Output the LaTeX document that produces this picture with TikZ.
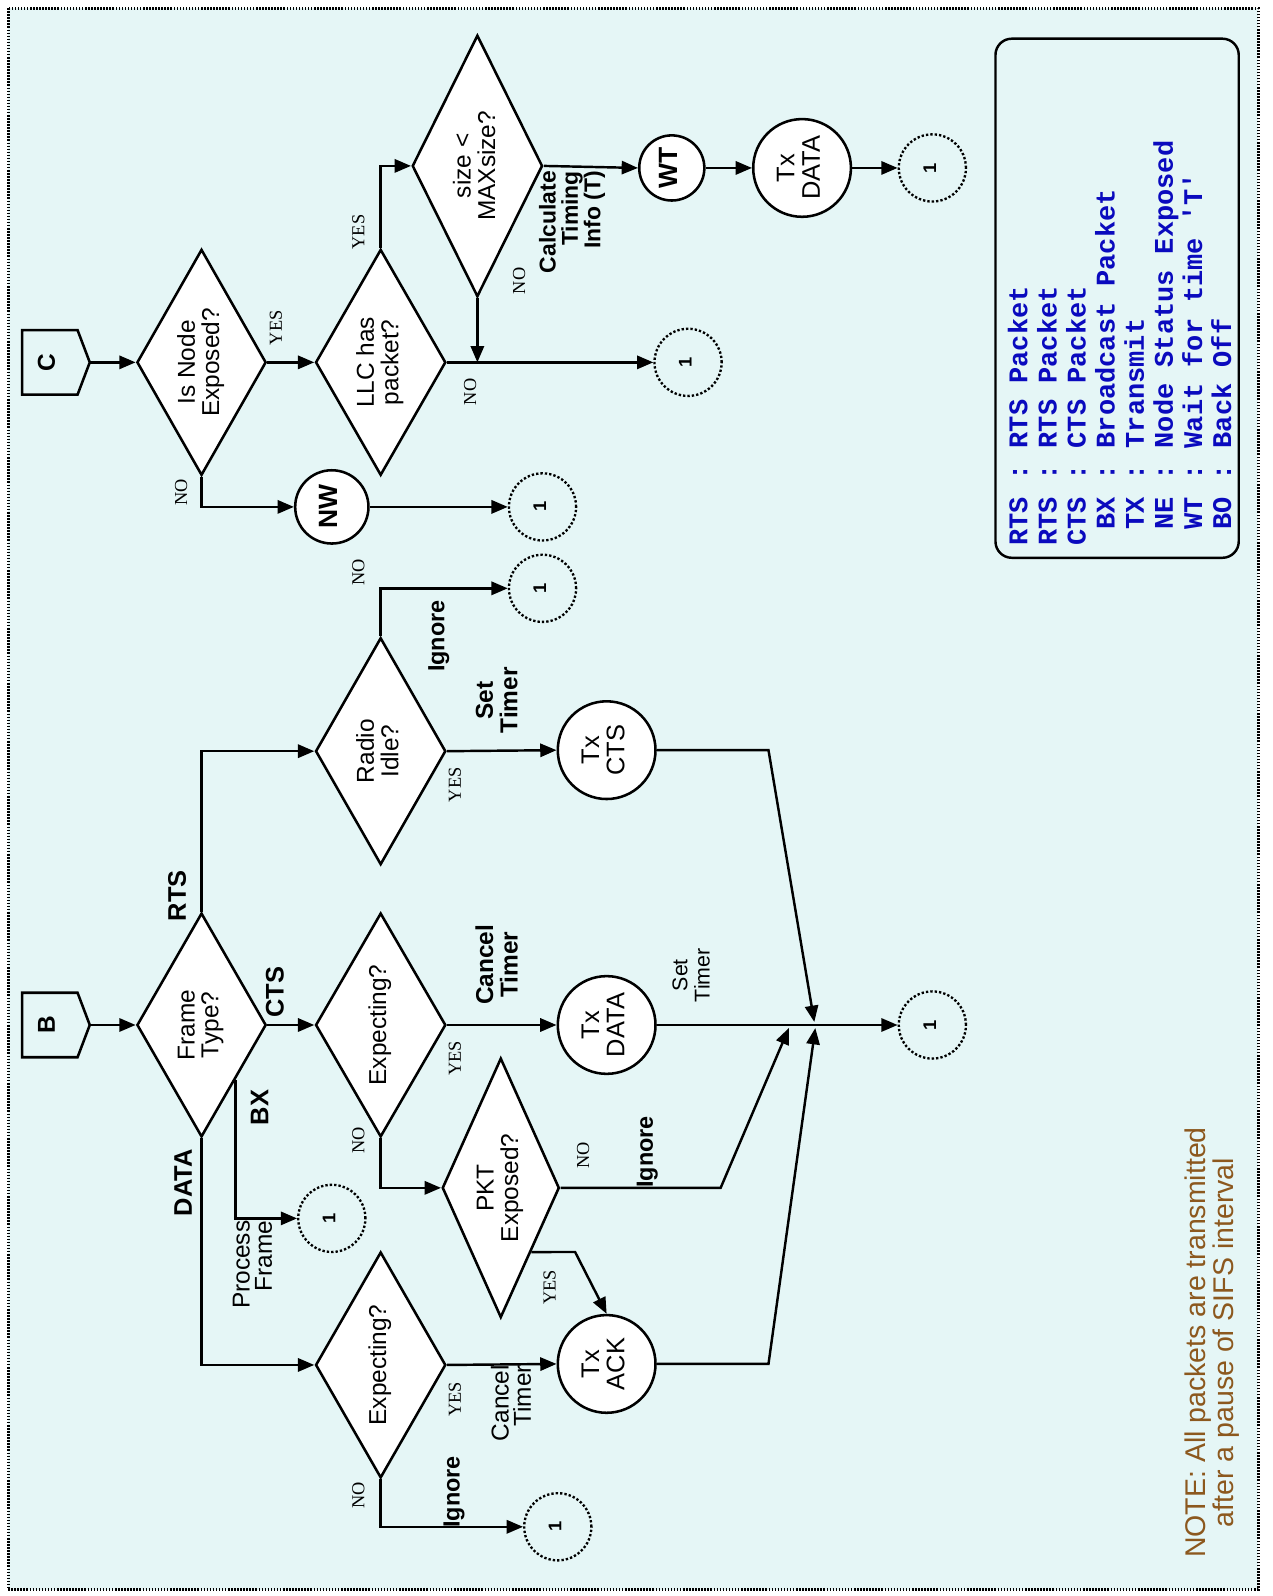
\documentclass[tikz,border=0pt]{standalone}
\usepackage{fontspec}
\setmainfont{Liberation Sans}
\newfontfamily\ynfont{Liberation Serif}
\newfontfamily\legfont{Liberation Mono}
\usetikzlibrary{shapes.geometric,arrows.meta,calc}
\definecolor{bgc}{RGB}{229,246,246}
\definecolor{legblue}{RGB}{10,10,190}
\definecolor{notebrown}{RGB}{140,88,30}
\newcommand{\rtx}[1]{\rotatebox{90}{\begin{tabular}{@{}c@{}}#1\end{tabular}}}
\begin{document}
\begin{tikzpicture}[x=1pt,y=-1pt,
  dia/.style={draw, diamond, fill=white, line width=2.5pt, inner sep=0pt, aspect=0.55, font=\fontsize{24}{22}\selectfont},
  circ/.style={draw, circle, fill=white, line width=2.5pt, inner sep=0pt, font=\fontsize{25}{25}\selectfont},
  bcirc/.style={circ, font=\bfseries\fontsize{26}{26}\selectfont},
  conn/.style={draw, circle, dotted, line width=2.3pt, minimum size=66pt, inner sep=0pt, font=\bfseries\fontsize{18}{18}\selectfont},
  pent/.style={minimum width=66pt, minimum height=63pt, inner sep=0pt, font=\bfseries\fontsize{24}{24}\selectfont},
  pentline/.style={line width=2.5pt},
  arr/.style={line width=2.4pt, -{Triangle[length=16pt,width=13pt]}},
  yn/.style={rotate=90, inner sep=0pt, font=\ynfont\fontsize{18}{18}\selectfont},
  blbl/.style={rotate=90, inner sep=0pt, font=\bfseries\fontsize{25}{25}\selectfont},
  btxt/.style={rotate=90, inner sep=0pt, align=center, font=\bfseries\fontsize{24}{24}\selectfont},
  rtxt/.style={rotate=90, inner sep=0pt, align=center, font=\fontsize{24}{22}\selectfont},
]
\useasboundingbox (0,0) rectangle (1250,1568);
\fill[white] (0,0) rectangle (1250,1568);
\draw[fill=bgc, line width=3pt, dash pattern=on 1.5pt off 1.5pt] (8,8) rectangle (1236,1562);

% ---------- legend and note
\node[draw, line width=2.4pt, rounded corners=16pt, minimum width=239pt, minimum height=510pt, inner sep=0pt] (legbox) at (1097.5,293) {};
\node[rotate=90, anchor=west, inner sep=0pt, align=left, text=legblue, font=\legfont\bfseries\fontsize{26.5}{28.6}\selectfont] (leg) at (1100,536)
 {RTS : RTS Packet\\RTS : RTS Packet\\CTS : CTS Packet\\~BX : Broadcast Packet\\~TX : Transmit\\~NE : Node Status Exposed\\~WT : Wait for time \textquotesingle T\textquotesingle\\~BO : Back Off};
\node[rotate=90, inner sep=0pt, align=center, text=notebrown, font=\fontsize{28}{27.5}\selectfont] (note) at (1191,1319)
 {NOTE: All packets are transmitted\\after a pause of SIFS interval};

% ---------- off-page connectors
\node[pent] (C) at (55,356) {\rtx{C}\hspace*{12pt}};
\node[pent] (B) at (55,1007) {\rtx{B}\hspace*{12pt}};
\draw[pentline] (C.north west) -- ([xshift=-12pt]C.north east) -- (C.east) -- ([xshift=-12pt]C.south east) -- (C.south west) -- cycle;
\draw[pentline] (B.north west) -- ([xshift=-12pt]B.north east) -- (B.east) -- ([xshift=-12pt]B.south east) -- (B.south west) -- cycle;

% ---------- decisions
\node[dia, minimum width=127pt, minimum height=222pt] (isexp) at (198,356) {\rtx{Is Node\\Exposed?}};
\node[dia, minimum width=128pt, minimum height=222pt] (llc) at (374,356) {\rtx{LLC has\\packet?}};
\node[dia, minimum width=128pt, minimum height=257pt] (size) at (469,163) {\rtx{size <\\MAXsize?}};
\node[dia, minimum width=127pt, minimum height=220pt] (ft) at (198,1007) {\rtx{Frame\\Type?}};
\node[dia, minimum width=128pt, minimum height=223pt] (radio) at (374,738) {\rtx{Radio\\Idle?}};
\node[dia, minimum width=128pt, minimum height=220pt] (expc) at (374,1007) {\rtx{Expecting?}};
\node[dia, minimum width=128pt, minimum height=222pt] (expd) at (374,1341) {\rtx{Expecting?}};
\node[dia, minimum width=115pt, minimum height=255pt] (pkt) at (492,1167) {\rtx{PKT\\Exposed?}};

% ---------- actions
\node[bcirc, minimum size=72pt] (nw) at (326,498) {\rtx{NW}};
\node[bcirc, minimum size=64pt] (wt) at (660,165) {\rtx{WT}};
\node[circ, minimum size=96pt] (txdc) at (788,165) {\rtx{Tx\\DATA}};
\node[circ, minimum size=96pt] (txcts) at (596,737) {\rtx{Tx\\CTS}};
\node[circ, minimum size=96pt] (txdb) at (596,1007) {\rtx{Tx\\DATA}};
\node[circ, minimum size=96pt] (txack) at (596,1340) {\rtx{Tx\\ACK}};

% ---------- connectors "1"
\node[conn] (c1) at (533,498) {\rtx{1}};
\node[conn] (c2) at (676,356) {\rtx{1}};
\node[conn] (c3) at (916,165) {\rtx{1}};
\node[conn] (c4) at (533,578) {\rtx{1}};
\node[conn] (c5) at (916,1007) {\rtx{1}};
\node[conn] (c6) at (326,1197) {\rtx{1}};
\node[conn] (c7) at (548,1500) {\rtx{1}};

% ---------- coordinates for bends
\coordinate (k1) at (755,737);
\coordinate (m1) at (800,1004);
\coordinate (k2) at (755,1340);
\coordinate (m2) at (801,1010);
\coordinate (k3) at (708,1167);
\coordinate (m3) at (775,1010);
\coordinate (k4) at (565,1230);

% ---------- flow C
\draw[arr] (C.east) -- (isexp.west);
\draw[arr] (isexp.east) -- (llc.west);
\draw[arr] (isexp.south) |- (nw.west);
\draw[arr] (nw.east) -- (c1.west);
\draw[arr] (llc.east) -- (c2.west);
\draw[arr] (llc.north) |- (size.west);
\draw[arr] (size.south) -- (size.south |- llc.east);
\draw[arr] (size.east) -- (wt.west);
\draw[arr] (wt.east) -- (txdc.west);
\draw[arr] (txdc.east) -- (c3.west);

% ---------- flow B
\draw[arr] (B.east) -- (ft.west);
\draw[arr] (ft.north) |- (radio.west);
\draw[arr] (ft.east) -- (expc.west);
\draw[arr] (ft.south) |- (expd.west);
\draw[arr] ($(ft.east)!0.484!(ft.south)$) |- (c6.west);
\draw[arr] (radio.east) -- (txcts.west);
\draw[arr] (radio.north) |- (c4.west);
\draw[arr] (expc.east) -- (txdb.west);
\draw[arr] (expc.south) |- (pkt.west);
\draw[arr] (expd.east) -- (txack.west);
\draw[arr] (expd.south) |- (c7.west);
\draw[arr] (txdb.east) -- (c5.west);
\draw[arr] (txcts.east) -- (k1) -- (m1);
\draw[arr] (txack.east) -- (k2) -- (m2);
\draw[arr] (pkt.east) -- (k3) -- (m3);
\draw[arr] ($(pkt.east)!0.49!(pkt.south)$) -- (k4) -- (txack.north);

% ---------- YES / NO labels
\node[yn] (y1) at (271,322) {YES};
\node[yn] (n1) at (178,484) {NO};
\node[yn] (y2) at (352,228) {YES};
\node[yn] (n2) at (462,385) {NO};
\node[yn] (n3) at (510,276) {NO};
\node[yn] (n4) at (352,562) {NO};
\node[yn] (y3) at (447,771) {YES};
\node[yn] (y4) at (447,1040) {YES};
\node[yn] (n5) at (352,1120) {NO};
\node[yn] (n6) at (573,1135) {NO};
\node[yn] (y5) at (540,1265) {YES};
\node[yn] (y6) at (447,1375) {YES};
\node[yn] (n7) at (352,1469) {NO};

% ---------- frame type labels
\node[blbl] (lrts) at (174,880) {RTS};
\node[blbl] (lcts) at (270,975) {CTS};
\node[blbl] (lbx) at (255,1088) {BX};
\node[blbl] (ldata) at (180,1162) {DATA};

% ---------- action labels
\node[btxt] (t1) at (488,688) {Set\\Timer};
\node[btxt, font=\bfseries\fontsize{23}{23}\selectfont] (t2) at (431,625) {Ignore};
\node[btxt] (t3) at (488,948) {Cancel\\Timer};
\node[rtxt, font=\fontsize{21}{22}\selectfont] (t4) at (679,958) {Set\\Timer};
\node[btxt, anchor=west, font=\bfseries\fontsize{23}{23}\selectfont] (t5) at (636,1167) {Ignore};
\node[rtxt, anchor=east, align=right] (t6) at (248,1199) {Process\\Frame};
\node[rtxt, anchor=east, align=right] (t7) at (502,1341) {Cancel\\Timer};
\node[btxt, anchor=west, font=\bfseries\fontsize{23}{23}\selectfont] (t8) at (446,1501) {Ignore};
\node[btxt, anchor=east, align=right, font=\bfseries\fontsize{22.5}{22}\selectfont] (t9) at (562,168) {Calculate\\Timing\\Info (T)};
\end{tikzpicture}
\end{document}
